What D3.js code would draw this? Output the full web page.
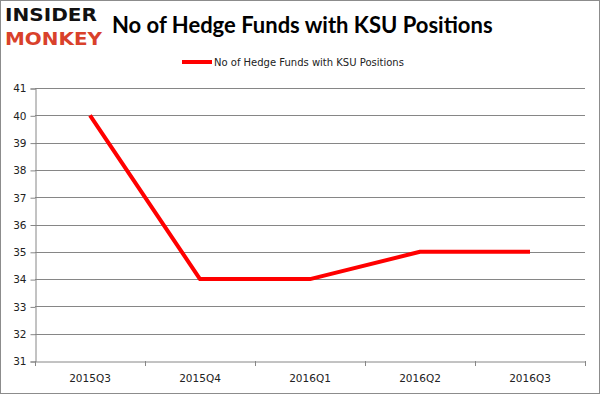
<!DOCTYPE html>
<html>
<head>
<meta charset="utf-8">
<script src="https://cdn.jsdelivr.net/npm/d3@7"></script>
<style>
  body { margin: 0; background: #fff; }
  svg { display: block; }
</style>
</head>
<body>
<div id="chart"></div>
<script>
// chart data
var quarters = ["2015Q3", "2015Q4", "2016Q1", "2016Q2", "2016Q3"];
var fundCounts = [40, 34, 34, 35, 35];
var yTicks = [31, 32, 33, 34, 35, 36, 37, 38, 39, 40, 41];
var seriesName = "No of Hedge Funds with KSU Positions";
var chartTitle = "No of Hedge Funds with KSU Positions";

var W = 601, H = 395;
var plot = {left: 35, right: 585, top: 88, bottom: 361};
var gridColor = "#868686";

var svg = d3.select("#chart").append("svg")
  .attr("width", W)
  .attr("height", H);

// outer frame
svg.append("rect")
  .attr("x", 0.5).attr("y", 0.5)
  .attr("width", W - 2).attr("height", H - 2)
  .attr("fill", "#fff")
  .attr("stroke", "#8c8c8c");

// logo
svg.append("text")
  .attr("x", 5).attr("y", 21)
  .attr("font-family", "DejaVu Sans")
  .attr("font-weight", "bold")
  .attr("font-size", 17)
  .attr("textLength", 92)
  .attr("lengthAdjust", "spacingAndGlyphs")
  .attr("fill", "#111")
  .text("INSIDER");
svg.append("text")
  .attr("x", 5).attr("y", 45)
  .attr("font-family", "DejaVu Sans")
  .attr("font-weight", "bold")
  .attr("font-size", 18)
  .attr("textLength", 97)
  .attr("lengthAdjust", "spacingAndGlyphs")
  .attr("fill", "#d9412b")
  .text("MONKEY");

// title
svg.append("text")
  .attr("x", 112).attr("y", 33)
  .attr("font-family", "Lato, 'Open Sans', sans-serif")
  .attr("font-weight", "bold")
  .attr("font-size", 22)
  .attr("fill", "#000")
  .text(chartTitle);

// scales
var x = d3.scaleBand()
  .domain(quarters)
  .range([plot.left, plot.right]);

var y = d3.scaleLinear()
  .domain([31, 41])
  .range([plot.bottom, plot.top]);

// gridlines
svg.append("g")
  .selectAll("line")
  .data(yTicks.filter(d => d > 31))
  .join("line")
  .attr("x1", plot.left).attr("x2", plot.right)
  .attr("y1", d => Math.round(y(d)) + 0.5)
  .attr("y2", d => Math.round(y(d)) + 0.5)
  .attr("stroke", gridColor);

// y axis
var yAxis = svg.append("g")
  .attr("transform", "translate(" + (plot.left + 0.5) + ",0.5)")
  .call(d3.axisLeft(y).tickValues(yTicks).tickSize(5).tickPadding(4).tickFormat(d3.format("d")));
yAxis.selectAll("line, path").attr("stroke", gridColor);
yAxis.selectAll("text")
  .attr("font-family", "DejaVu Sans")
  .attr("font-size", 10.5)
  .attr("fill", "#222");

// x axis
var xAxis = svg.append("g")
  .attr("transform", "translate(0," + (plot.bottom + 0.5) + ")")
  .call(d3.axisBottom(x).tickSize(0).tickPadding(13).tickSizeOuter(0));
xAxis.select("path").attr("stroke", gridColor);
xAxis.selectAll("text")
  .attr("font-family", "DejaVu Sans")
  .attr("font-size", 10.5)
  .attr("fill", "#222");

// x tick marks at band edges
var edges = quarters.map(q => x(q)).concat([plot.right]);
svg.append("g")
  .selectAll("line")
  .data(edges)
  .join("line")
  .attr("x1", d => Math.round(d) + 0.5).attr("x2", d => Math.round(d) + 0.5)
  .attr("y1", plot.bottom).attr("y2", plot.bottom + 5)
  .attr("stroke", gridColor);

// series line
var line = d3.line()
  .x((d, i) => x(quarters[i]) + x.bandwidth() / 2)
  .y(d => y(d));

svg.append("path")
  .datum(fundCounts)
  .attr("d", line)
  .attr("fill", "none")
  .attr("stroke", "#ff0000")
  .attr("stroke-width", 4)
  .attr("stroke-linejoin", "round");

// legend
svg.append("line")
  .attr("x1", 182).attr("x2", 212)
  .attr("y1", 62).attr("y2", 62)
  .attr("stroke", "#ff0000")
  .attr("stroke-width", 4);
svg.append("text")
  .attr("x", 214).attr("y", 66)
  .attr("font-family", "DejaVu Sans")
  .attr("font-size", 10)
  .attr("fill", "#222")
  .text(seriesName);
</script>
</body>
</html>
